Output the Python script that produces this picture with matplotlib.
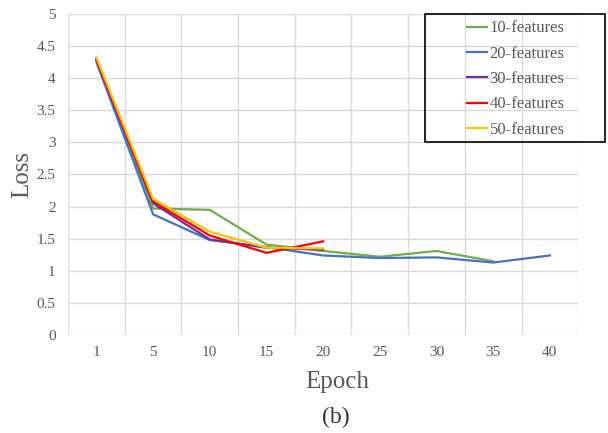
import matplotlib.pyplot as plt
from matplotlib.patches import Rectangle
import numpy as np

plt.rcParams['font.family'] = ['Liberation Serif', 'DejaVu Serif']

epochs = ['1', '5', '10', '15', '20', '25', '30', '35', '40']
loss_10 = [4.27, 1.97, 1.95, 1.41, 1.31, 1.22, 1.31, 1.15]
loss_20 = [4.25, 1.88, 1.48, 1.37, 1.24, 1.20, 1.21, 1.13, 1.24]
loss_30 = [4.28, 2.05, 1.49, 1.36, 1.33]
loss_40 = [4.30, 2.08, 1.55, 1.28, 1.46]
loss_50 = [4.32, 2.12, 1.61, 1.36, 1.35]
names = ['10-features', '20-features', '30-features', '40-features', '50-features']
colors = ['#70AD47', '#4472C4', '#7030A0', '#FF0000', '#FFC000']

fig = plt.figure(figsize=(6.08, 4.33), dpi=100)
ax = fig.add_axes([0.112, 0.226, 0.839, 0.742])

x = np.arange(len(epochs))
for ys, name, c in zip([loss_10, loss_20, loss_30, loss_40, loss_50], names, colors):
    ax.plot(x[:len(ys)], ys, color=c, lw=1.6, label=name)

ax.set_xlim(-0.5, len(epochs) - 0.5)
ax.set_ylim(0, 5)
ax.set_yticks(np.arange(0, 5.01, 0.5))
ax.set_yticklabels(['0', '0.5', '1', '1.5', '2', '2.5', '3', '3.5', '4', '4.5', '5'])
ax.set_xticks(x)
ax.set_xticklabels(epochs)
ax.set_xticks(np.arange(-0.5, len(epochs)), minor=True)
ax.grid(True, which='minor', axis='x', color='#D9D9D9', lw=1)
ax.grid(True, which='major', axis='y', color='#D9D9D9', lw=1)
ax.tick_params(which='both', length=0, labelsize=11, colors='#595959')
ax.tick_params(axis='x', pad=8)
ax.tick_params(axis='y', pad=9)
for s in ax.spines.values():
    s.set_visible(False)
ax.set_axisbelow(True)

ax.set_ylabel('Loss', fontsize=18, color='#595959', va='center')
ax.yaxis.set_label_coords(-0.09, 0.5)
ax.set_xlabel('Epoch', fontsize=18, color='#595959', va='top')
ax.xaxis.set_label_coords(0.527, -0.112)
fig.text(0.553, 0.035, '(b)', fontsize=17, color='#333333', ha='center', va='center')

# legend box in the Excel style, wider than the entries
fig.patches.append(Rectangle((425 / 608, 1 - 142 / 433), 180 / 608, 128 / 433,
                             transform=fig.transFigure, fill=False, ec='black', lw=1.2))
leg = ax.legend(loc='upper left', bbox_to_anchor=(467 / 608, 0.953),
                bbox_transform=fig.transFigure, frameon=False,
                fontsize=12, handlelength=1.2, handletextpad=0.15, labelspacing=0.56,
                borderpad=0, borderaxespad=0)
for t in leg.get_texts():
    t.set_color('#595959')

fig.savefig('out.png', dpi=100)
